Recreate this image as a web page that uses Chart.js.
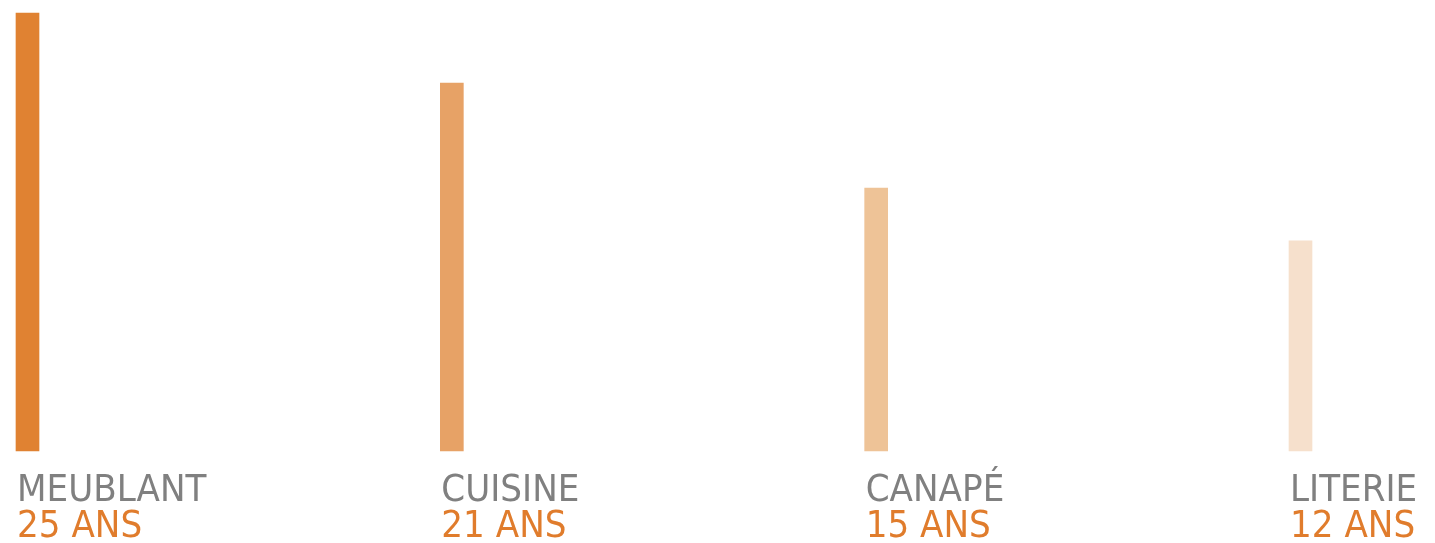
<!DOCTYPE html>
<html>
<head>
<meta charset="utf-8">
<script src="https://cdn.jsdelivr.net/npm/chart.js@4/dist/chart.umd.min.js"></script>
<style>
  html, body { margin: 0; padding: 0; background: #fff; }
  #wrap { width: 1435px; height: 543px; position: relative; }
</style>
</head>
<body>
<div id="wrap"><canvas id="ageChart"></canvas></div>
<script>
const categories = ['MEUBLANT', 'CUISINE', 'CANAPÉ', 'LITERIE'];
const years = [25, 21, 15, 12];
const unit = 'ANS';
const barColors = ['#E08232', '#E7A266', '#EEC397', '#F6E0CC'];

// labels under each bar, left aligned on the bar
const bottomLabels = {
  id: 'bottomLabels',
  afterDatasetsDraw(chart) {
    const ctx = chart.ctx;
    const meta = chart.getDatasetMeta(0);
    const squeeze = 0.925;
    meta.data.forEach((bar, i) => {
      const left = bar.x - bar.width / 2 + 1;
      ctx.save();
      ctx.translate(left, bar.base);
      ctx.scale(squeeze, 1);
      ctx.textAlign = 'left';
      ctx.textBaseline = 'alphabetic';
      ctx.font = '37px "DejaVu Sans", sans-serif';
      ctx.fillStyle = '#808080';
      ctx.fillText(categories[i], 0, 50);
      ctx.fillStyle = '#E07C2C';
      ctx.fillText(years[i] + ' ' + unit, 0, 86);
      ctx.restore();
    });
  }
};

new Chart(document.getElementById('ageChart').getContext('2d'), {
  type: 'bar',
  data: {
    labels: categories,
    datasets: [{
      data: years,
      backgroundColor: barColors,
      borderWidth: 0,
      barThickness: 23,
      clip: false
    }]
  },
  options: {
    animation: false,
    responsive: true,
    maintainAspectRatio: false,
    layout: {
      padding: { left: 27.5, right: 134.5, top: 13, bottom: 92 }
    },
    plugins: {
      legend: { display: false },
      tooltip: { enabled: false }
    },
    scales: {
      x: {
        display: false,
        offset: false,
        grid: { display: false }
      },
      y: {
        display: false,
        min: 0,
        max: 25,
        grid: { display: false }
      }
    }
  },
  plugins: [bottomLabels]
});
</script>
</body>
</html>
